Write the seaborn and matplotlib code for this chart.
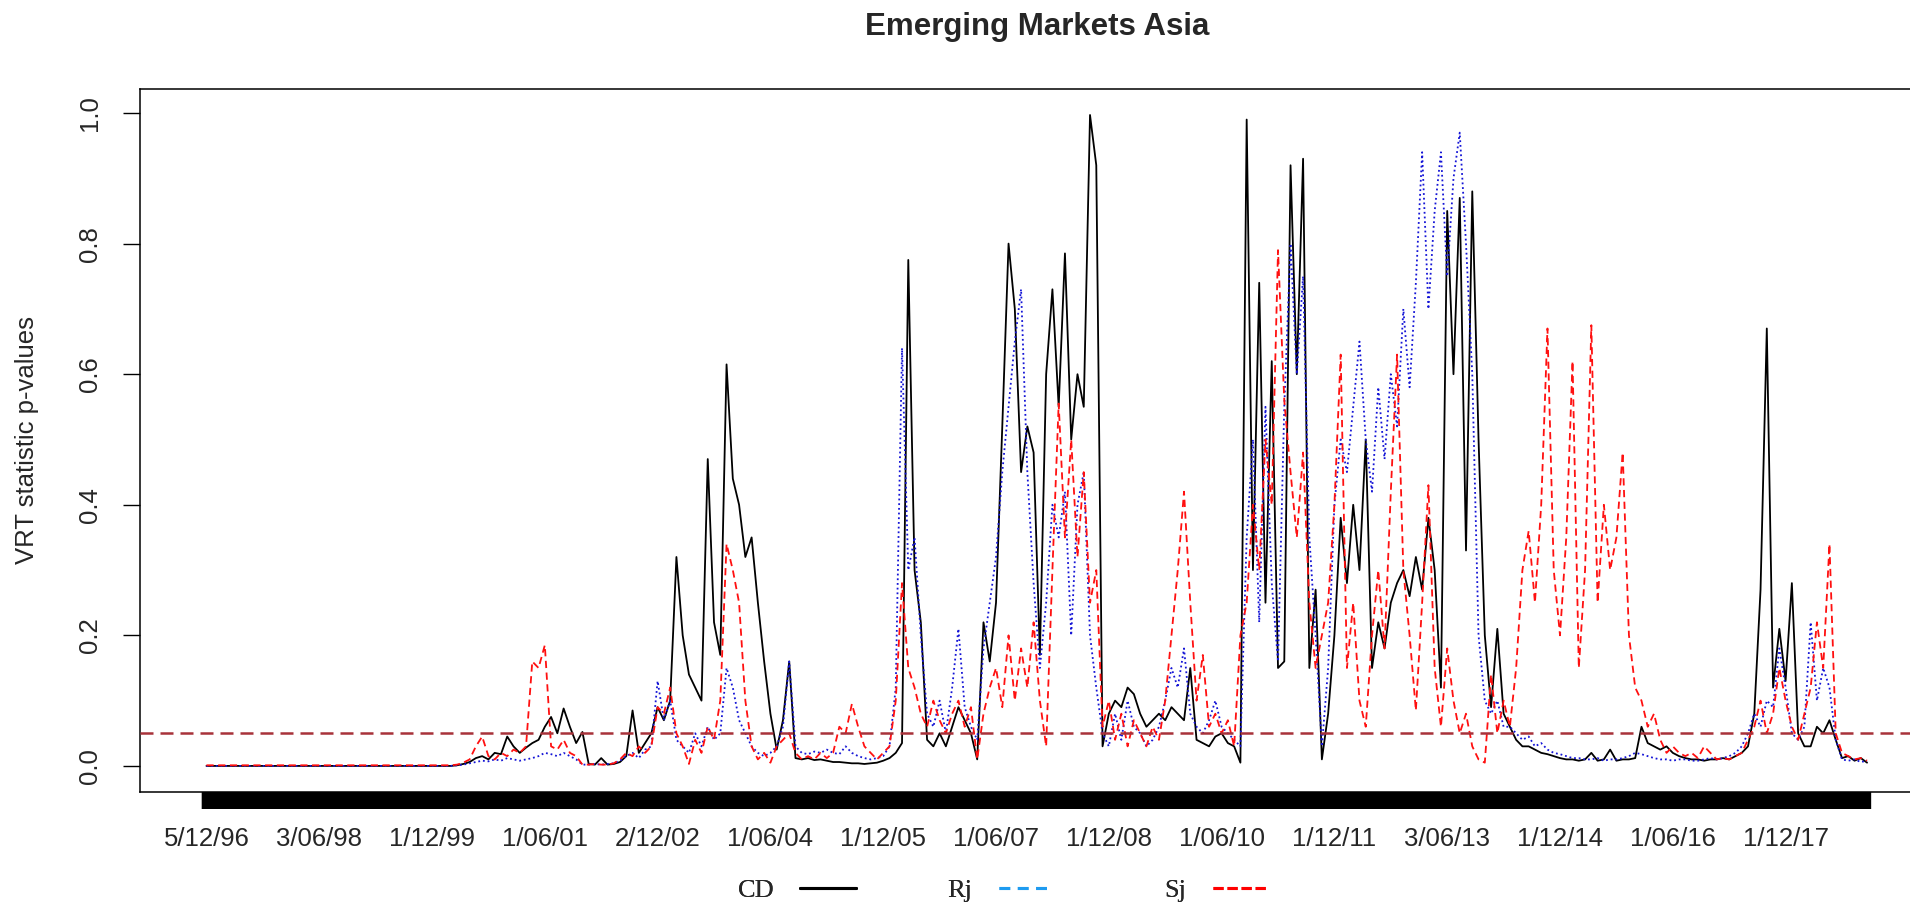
import numpy as np
import pandas as pd
import matplotlib
matplotlib.use("Agg")
import matplotlib.pyplot as plt
from matplotlib.lines import Line2D
import seaborn as sns

# Date labels shown under the axis (d/mm/yy), monthly observations start Dec 1996
tick_labels = ["5/12/96", "3/06/98", "1/12/99", "1/06/01", "2/12/02", "1/06/04",
               "1/12/05", "1/06/07", "1/12/08", "1/06/10", "1/12/11", "3/06/13",
               "1/12/14", "1/06/16", "1/12/17"]

# CD p-values
cd = [
    0, 0, 0, 0, 0, 0, 0, 0, 0, 0,
    0, 0, 0, 0, 0, 0, 0, 0, 0, 0,
    0, 0, 0, 0, 0, 0, 0, 0, 0, 0,
    0, 0, 0, 0, 0, 0, 0, 0, 0, 0,
    0.001, 0.003, 0.006, 0.012, 0.015, 0.010, 0.020, 0.018, 0.045, 0.030,
    0.020, 0.028, 0.035, 0.040, 0.060, 0.075, 0.050, 0.088, 0.060, 0.035,
    0.052, 0.003, 0.002, 0.012, 0.002, 0.003, 0.006, 0.015, 0.085, 0.020,
    0.035, 0.050, 0.090, 0.070, 0.100, 0.320, 0.200, 0.140, 0.120, 0.100,
    0.470, 0.220, 0.170, 0.615, 0.440, 0.400, 0.320, 0.350, 0.250, 0.160,
    0.080, 0.025, 0.070, 0.160, 0.012, 0.010, 0.012, 0.009, 0.010, 0.008,
    0.006, 0.006, 0.005, 0.004, 0.004, 0.003, 0.004, 0.005, 0.008, 0.012,
    0.020, 0.035, 0.775, 0.300, 0.220, 0.040, 0.030, 0.050, 0.030, 0.060,
    0.090, 0.070, 0.050, 0.010, 0.220, 0.160, 0.250, 0.520, 0.800, 0.700,
    0.450, 0.520, 0.480, 0.170, 0.600, 0.730, 0.550, 0.785, 0.500, 0.600,
    0.550, 0.997, 0.920, 0.030, 0.080, 0.100, 0.090, 0.120, 0.110, 0.080,
    0.060, 0.070, 0.080, 0.070, 0.090, 0.080, 0.070, 0.150, 0.040, 0.035,
    0.030, 0.045, 0.050, 0.035, 0.030, 0.005, 0.990, 0.300, 0.740, 0.250,
    0.620, 0.150, 0.160, 0.920, 0.600, 0.930, 0.150, 0.270, 0.010, 0.080,
    0.200, 0.380, 0.280, 0.400, 0.300, 0.500, 0.150, 0.220, 0.180, 0.250,
    0.280, 0.300, 0.260, 0.320, 0.270, 0.380, 0.300, 0.120, 0.850, 0.600,
    0.870, 0.330, 0.880, 0.500, 0.200, 0.090, 0.210, 0.080, 0.060, 0.040,
    0.030, 0.030, 0.025, 0.020, 0.018, 0.015, 0.012, 0.010, 0.010, 0.008,
    0.010, 0.020, 0.008, 0.010, 0.025, 0.008, 0.010, 0.010, 0.012, 0.060,
    0.035, 0.030, 0.025, 0.030, 0.020, 0.015, 0.012, 0.010, 0.010, 0.008,
    0.010, 0.010, 0.012, 0.010, 0.015, 0.020, 0.030, 0.080, 0.270, 0.670,
    0.120, 0.210, 0.130, 0.280, 0.050, 0.030, 0.030, 0.060, 0.050, 0.070,
    0.040, 0.012, 0.015, 0.008, 0.012, 0.005,
]

# Rj p-values
rj = [
    0, 0, 0, 0, 0, 0, 0, 0, 0, 0,
    0, 0, 0, 0, 0, 0, 0, 0, 0, 0,
    0, 0, 0, 0, 0, 0, 0, 0, 0, 0,
    0, 0, 0, 0, 0, 0, 0, 0, 0, 0,
    0.001, 0.002, 0.004, 0.006, 0.008, 0.007, 0.010, 0.008, 0.012, 0.010,
    0.008, 0.010, 0.012, 0.015, 0.020, 0.018, 0.015, 0.020, 0.015, 0.010,
    0.002, 0.002, 0.003, 0.002, 0.003, 0.004, 0.008, 0.015, 0.020, 0.012,
    0.025, 0.030, 0.130, 0.070, 0.100, 0.040, 0.030, 0.020, 0.050, 0.030,
    0.060, 0.040, 0.050, 0.150, 0.120, 0.070, 0.050, 0.030, 0.020, 0.015,
    0.020, 0.030, 0.060, 0.160, 0.030, 0.020, 0.018, 0.022, 0.020, 0.025,
    0.020, 0.018, 0.030, 0.020, 0.015, 0.012, 0.010, 0.012, 0.015, 0.030,
    0.120, 0.640, 0.300, 0.350, 0.200, 0.080, 0.060, 0.100, 0.050, 0.120,
    0.210, 0.090, 0.060, 0.040, 0.180, 0.250, 0.320, 0.450, 0.550, 0.650,
    0.730, 0.450, 0.280, 0.150, 0.250, 0.400, 0.350, 0.420, 0.200, 0.400,
    0.450, 0.200, 0.120, 0.050, 0.030, 0.080, 0.040, 0.100, 0.060, 0.050,
    0.030, 0.040, 0.060, 0.100, 0.150, 0.120, 0.180, 0.080, 0.060, 0.050,
    0.070, 0.100, 0.060, 0.050, 0.040, 0.030, 0.350, 0.500, 0.220, 0.550,
    0.280, 0.160, 0.550, 0.800, 0.600, 0.750, 0.350, 0.200, 0.030, 0.150,
    0.400, 0.500, 0.450, 0.550, 0.650, 0.500, 0.420, 0.580, 0.470, 0.600,
    0.520, 0.700, 0.580, 0.740, 0.940, 0.700, 0.850, 0.940, 0.750, 0.900,
    0.970, 0.800, 0.600, 0.200, 0.100, 0.080, 0.100, 0.060, 0.060, 0.050,
    0.040, 0.045, 0.030, 0.035, 0.025, 0.020, 0.018, 0.015, 0.012, 0.012,
    0.010, 0.010, 0.012, 0.008, 0.010, 0.010, 0.012, 0.015, 0.020, 0.018,
    0.015, 0.012, 0.010, 0.010, 0.008, 0.010, 0.010, 0.008, 0.008, 0.010,
    0.012, 0.010, 0.012, 0.015, 0.020, 0.030, 0.050, 0.080, 0.060, 0.100,
    0.090, 0.180, 0.120, 0.050, 0.040, 0.060, 0.220, 0.100, 0.150, 0.120,
    0.040, 0.010, 0.008, 0.010, 0.006, 0.008,
]

# Sj p-values
sj = [
    0.001, 0.001, 0.001, 0.001, 0.001, 0.001, 0.001, 0.001, 0.001, 0.001,
    0.001, 0.001, 0.001, 0.001, 0.001, 0.001, 0.001, 0.001, 0.001, 0.001,
    0.001, 0.001, 0.001, 0.001, 0.001, 0.001, 0.001, 0.001, 0.001, 0.001,
    0.001, 0.001, 0.001, 0.001, 0.001, 0.001, 0.001, 0.001, 0.001, 0.001,
    0.002, 0.005, 0.010, 0.030, 0.045, 0.015, 0.010, 0.020, 0.015, 0.025,
    0.020, 0.030, 0.160, 0.150, 0.185, 0.030, 0.025, 0.040, 0.020, 0.015,
    0.002, 0.002, 0.003, 0.002, 0.002, 0.004, 0.010, 0.020, 0.015, 0.030,
    0.020, 0.030, 0.090, 0.080, 0.120, 0.050, 0.030, 0.003, 0.040, 0.020,
    0.060, 0.040, 0.100, 0.340, 0.300, 0.250, 0.100, 0.030, 0.010, 0.020,
    0.005, 0.030, 0.040, 0.050, 0.020, 0.010, 0.015, 0.010, 0.020, 0.012,
    0.020, 0.060, 0.050, 0.095, 0.060, 0.030, 0.020, 0.010, 0.020, 0.030,
    0.100, 0.280, 0.150, 0.120, 0.080, 0.060, 0.100, 0.070, 0.050, 0.080,
    0.100, 0.060, 0.090, 0.010, 0.080, 0.120, 0.150, 0.090, 0.200, 0.100,
    0.180, 0.120, 0.220, 0.100, 0.030, 0.300, 0.555, 0.350, 0.500, 0.320,
    0.450, 0.250, 0.300, 0.060, 0.100, 0.040, 0.080, 0.030, 0.070, 0.050,
    0.030, 0.060, 0.040, 0.100, 0.200, 0.300, 0.420, 0.250, 0.100, 0.170,
    0.060, 0.080, 0.050, 0.070, 0.030, 0.200, 0.250, 0.400, 0.300, 0.500,
    0.400, 0.790, 0.560, 0.450, 0.350, 0.480, 0.250, 0.150, 0.200, 0.250,
    0.400, 0.630, 0.150, 0.250, 0.100, 0.060, 0.200, 0.300, 0.180, 0.420,
    0.630, 0.300, 0.200, 0.085, 0.250, 0.430, 0.150, 0.060, 0.180, 0.100,
    0.050, 0.080, 0.030, 0.010, 0.005, 0.140, 0.050, 0.100, 0.060, 0.150,
    0.300, 0.360, 0.250, 0.400, 0.670, 0.300, 0.200, 0.350, 0.620, 0.150,
    0.300, 0.675, 0.250, 0.400, 0.300, 0.350, 0.480, 0.200, 0.120, 0.100,
    0.060, 0.080, 0.040, 0.020, 0.030, 0.020, 0.015, 0.020, 0.012, 0.030,
    0.020, 0.010, 0.012, 0.010, 0.015, 0.020, 0.040, 0.060, 0.100, 0.050,
    0.080, 0.150, 0.100, 0.060, 0.040, 0.080, 0.120, 0.220, 0.150, 0.340,
    0.050, 0.020, 0.015, 0.010, 0.012, 0.008,
]

threshold = 0.05

assert len(cd) == len(rj) == len(sj)
n = len(cd)
obs = np.arange(n)

frame = pd.DataFrame({"obs": obs, "CD": cd, "Rj": rj, "Sj": sj})
long = frame.melt(id_vars="obs", var_name="stat", value_name="p")

sns.set_theme(style="white")
plt.rcParams["font.family"] = ["Liberation Sans", "DejaVu Sans"]

fig = plt.figure(figsize=(19.10, 9.05), dpi=100)
ax = fig.add_axes([0.0733, 0.1249, 0.9390, 0.7768])

sns.lineplot(
    data=long, x="obs", y="p", hue="stat", style="stat",
    palette={"CD": "black", "Rj": "#1414d6", "Sj": "#ff1010"},
    dashes={"CD": "", "Rj": (1, 1.6), "Sj": (4, 2.5)},
    linewidth=1.3, estimator=None, sort=False, legend=False, ax=ax,
)

ax.axhline(threshold, color="#a8323a", linewidth=1.8, dashes=(5.2, 2.8), zorder=5)

# R-style axis limits: 4% padding around the data range
xpad = 0.04 * (n - 1)
ymax = max(max(cd), max(rj), max(sj))
ypad = 0.04 * ymax
ax.set_xlim(-xpad, n - 1 + xpad)
ax.set_ylim(-ypad, ymax + ypad)

# month offsets of the labelled dates from the first observation (Dec 1996)
def month_offset(label):
    d, m, y = label.split("/")
    year = 1900 + int(y) if int(y) > 50 else 2000 + int(y)
    return (year - 1996) * 12 + int(m) - 12

ax.xaxis.remove_overlapping_locs = False
ax.set_xticks(obs, minor=True)
ax.set_xticks([month_offset(t) for t in tick_labels])
ax.set_xticklabels(tick_labels)
ax.tick_params(axis="x", which="both", direction="out", length=12.5, width=6.0,
               color="black", bottom=True, labelsize=18.5, pad=13)

yt = [0.0, 0.2, 0.4, 0.6, 0.8, 1.0]
ax.set_yticks(yt)
ax.set_yticklabels([f"{v:.1f}" for v in yt])
ax.tick_params(axis="y", direction="out", length=12.5, width=1.0, color="black",
               left=True, labelsize=18.5, pad=15)
for lab in ax.get_yticklabels():
    lab.set_rotation(90)
    lab.set_va("center")
    lab.set_ha("right")

ax.set_xlabel("")
ax.set_ylabel("")
ax.text(-0.063, 0.5, "VRT statistic p-values", transform=ax.transAxes,
        rotation=90, ha="center", va="center", fontsize=18.5)

for sp in ax.spines.values():
    sp.set_color("black")
    sp.set_linewidth(1.1)

ax_center = (0.0733 + 0.0733 + 0.9390) / 2
fig.text(ax_center, 1 - 27 / 905, "Emerging Markets Asia", ha="center", va="center",
         fontsize=22.5, fontweight="bold")

# legend: label text sits to the left of each line sample
entries = [
    ("CD", Line2D([], [], color="black", linewidth=2.2), 0.4171),
    ("Rj", Line2D([], [], color="#1e9bf0", linewidth=2.2, dashes=(3.5, 2.5)), 0.5239),
    ("Sj", Line2D([], [], color="#ff0000", linewidth=2.2, dashes=(3.3, 1.3)), 0.6368),
]
for name, handle, xc in entries:
    leg = fig.legend([handle], [name], loc="center", bbox_to_anchor=(xc, 0.016),
                     frameon=False, markerfirst=False,
                     prop={"family": "Liberation Serif", "size": 19},
                     handlelength=2.1, handletextpad=1.0, borderpad=0.2)
    fig.add_artist(leg)

fig.savefig("out.png", dpi=100, facecolor="white")
